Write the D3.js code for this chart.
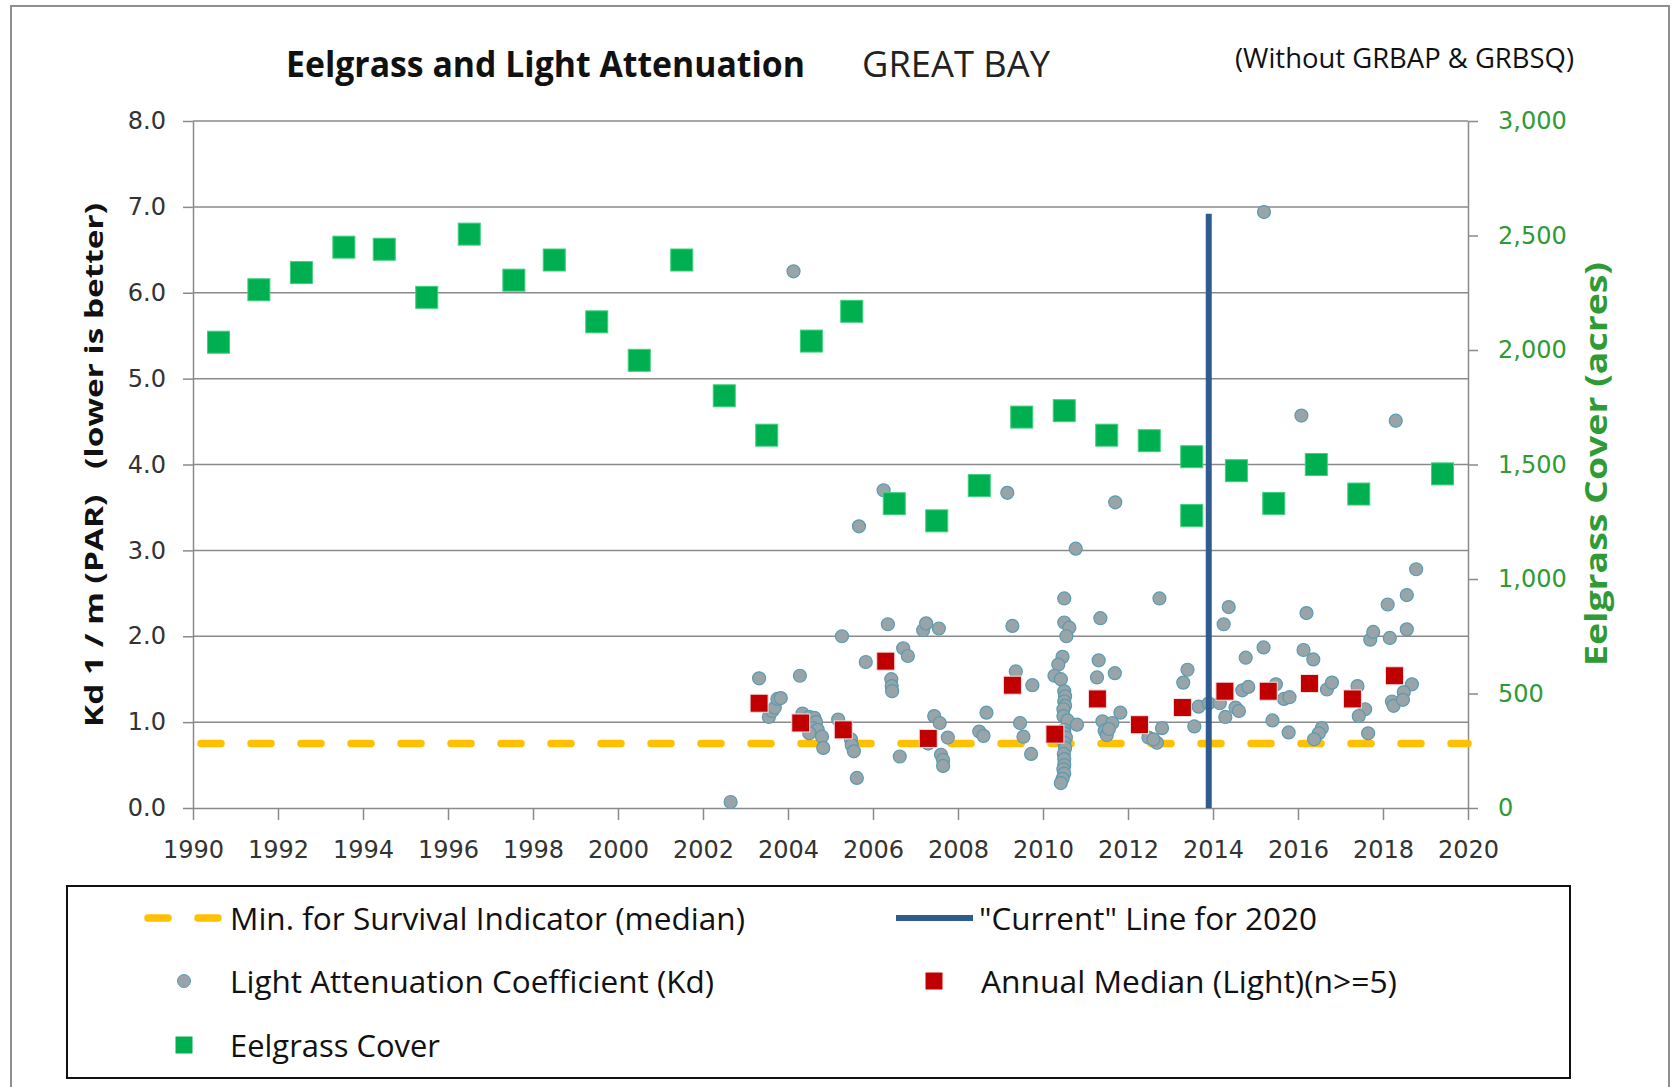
<!DOCTYPE html>
<html><head><meta charset="utf-8">
<script src="https://cdn.jsdelivr.net/npm/d3@7"></script>
<style>body{margin:0;background:#fff;} svg{display:block;}</style>
</head><body><svg id="chart" width="1677" height="1087"></svg>
<script>
// ---------------- DATA ----------------
const coverYears = [1990.6,1991.55,1992.55,1993.55,1994.5,1995.5,1996.5,1997.55,1998.5,1999.5,2000.5,2001.5,2002.5,2003.5,2004.55,2005.5,2006.5,2007.5,2008.5,2009.5,2010.5,2011.5,2012.5,2013.5,2013.5,2014.55,2015.43,2016.43,2017.43,2019.4];
const coverAcres = [2034,2263,2338,2449,2440,2230,2506,2305,2393,2123,1955,2393,1800,1628,2039,2169,1329,1254,1408,1707,1735,1628,1604,1534,1277,1473,1330,1500,1371,1459];

const medianYears = [2003.32,2004.3,2005.3,2006.3,2007.3,2009.28,2010.28,2011.28,2012.27,2013.28,2014.28,2015.3,2016.27,2017.28,2018.27];
const medianKd = [1.22,0.99,0.91,1.71,0.81,1.43,0.86,1.27,0.97,1.17,1.36,1.36,1.45,1.27,1.54];

const kdSamples = [
  [2002.65,0.07],
  [2003.32,1.51],[2003.55,1.06],[2003.63,1.13],[2003.69,1.17],[2003.75,1.27],[2003.83,1.28],
  [2004.13,6.25],[2004.28,1.54],[2004.34,1.10],[2004.5,1.06],[2004.62,1.05],[2004.66,1.00],[2004.58,0.93],[2004.7,0.91],[2004.5,0.87],[2004.8,0.83],[2004.83,0.70],
  [2005.27,2.00],[2005.18,1.03],[2005.48,0.80],[2005.5,0.73],[2005.55,0.66],[2005.62,0.35],[2005.67,3.28],[2005.83,1.70],
  [2006.25,3.70],[2006.35,2.14],[2006.43,1.50],[2006.44,1.42],[2006.45,1.36],[2006.71,1.86],[2006.82,1.77],[2006.63,0.60],
  [2007.18,2.07],[2007.25,2.15],[2007.55,2.09],[2007.44,1.07],[2007.57,0.99],[2007.76,0.82],[2007.6,0.62],[2007.65,0.56],[2007.65,0.49],[2007.3,0.75],
  [2008.67,1.11],[2008.5,0.89],[2008.6,0.84],
  [2009.16,3.67],[2009.28,2.12],[2009.36,1.59],[2009.75,1.43],[2009.46,0.99],[2009.54,0.83],[2009.72,0.63],
  [2010.77,3.02],[2010.5,2.44],[2010.5,2.16],[2010.62,2.10],[2010.55,2.00],[2010.46,1.76],[2010.36,1.67],[2010.27,1.54],[2010.42,1.50],[2010.5,1.36],[2010.52,1.30],[2010.5,1.24],[2010.52,1.19],[2010.48,1.15],[2010.48,1.07],[2010.58,1.02],[2010.8,0.97],[2010.5,0.91],[2010.5,0.87],[2010.54,0.82],[2010.5,0.76],[2010.52,0.70],[2010.49,0.63],[2010.5,0.57],[2010.5,0.50],[2010.48,0.45],[2010.5,0.40],[2010.46,0.34],[2010.42,0.29],
  [2011.7,3.56],[2011.35,2.21],[2011.31,1.72],[2011.27,1.52],[2011.69,1.57],[2011.4,1.01],[2011.45,0.90],[2011.5,0.85],[2011.82,1.11],[2011.63,0.99],[2011.55,0.92],
  [2012.74,2.44],[2012.48,0.82],[2012.68,0.76],[2012.8,0.93],[2012.6,0.80],
  [2013.4,1.61],[2013.3,1.46],[2013.66,1.18],[2013.56,0.95],[2013.9,1.22],
  [2014.37,2.34],[2014.25,2.14],[2014.77,1.75],[2014.69,1.37],[2014.83,1.41],[2014.16,1.22],[2014.53,1.17],[2014.61,1.13],[2014.29,1.06],
  [2015.2,6.94],[2015.19,1.87],[2015.4,1.02],[2015.78,0.88],[2015.48,1.44],[2015.67,1.27],[2015.8,1.29],
  [2016.08,4.57],[2016.2,2.27],[2016.13,1.84],[2016.36,1.73],[2016.68,1.38],[2016.8,1.46],[2016.56,0.93],[2016.49,0.87],[2016.38,0.80],
  [2017.4,1.42],[2017.58,1.15],[2017.43,1.07],[2017.65,0.87],[2017.7,1.96],[2017.77,2.05],
  [2018.3,4.51],[2018.11,2.37],[2018.16,1.98],[2018.56,2.48],[2018.56,2.08],[2018.78,2.78],[2018.68,1.44],[2018.49,1.35],[2018.21,1.24],[2018.25,1.19],[2018.47,1.26]
];

const survivalKd = 0.75;
const currentLineYear = 2013.9;
const currentLineTop = 6.92;

const kdTicks = [0,1,2,3,4,5,6,7,8];
const yearTicks = [1990,1992,1994,1996,1998,2000,2002,2004,2006,2008,2010,2012,2014,2016,2018,2020];
const acreTicks = [0,500,1000,1500,2000,2500,3000];

const titleText = "Eelgrass and Light Attenuation";
const subtitleText = "GREAT BAY";
const noteText = "(Without GRBAP & GRBSQ)";
const leftTitle = "Kd 1 / m (PAR)   (lower is better)";
const rightTitle = "Eelgrass Cover (acres)";
const legendLabels = ["Min. for Survival Indicator (median)", "\"Current\" Line for 2020", "Light Attenuation Coefficient (Kd)", "Annual Median (Light)(n>=5)", "Eelgrass Cover"];

// ---------------- STYLE ----------------
const C = {grid:"#8a8a8a", text:"#333", green:"#00b050", greenText:"#2f9a36", red:"#c00000", dotFill:"#98a4a8", dotStroke:"#5a9bb0", blue:"#2f5b8f", yellow:"#ffc000"};
const L=193, R=1468, T=121, B=808;

const svg = d3.select("#chart");
svg.append("rect").attr("x",11).attr("y",6).attr("width",1658).attr("height",1100)
  .attr("fill","#fff").attr("stroke","#8f8f8f").attr("stroke-width",2);

const x = d3.scaleLinear().domain([1990,2020]).range([L,R]);
const y = d3.scaleLinear().domain([0,8]).range([B,T]);
const y2 = d3.scaleLinear().domain([0,3000]).range([B,T]);

// gridlines
svg.append("g").selectAll("line").data(kdTicks.filter(d=>d>0)).join("line")
  .attr("x1",L).attr("x2",R).attr("y1",d=>y(d)).attr("y2",d=>y(d))
  .attr("stroke",C.grid).attr("stroke-width",1.5);

function styleAxis(g, color){
  g.selectAll("path").attr("stroke",C.grid).attr("stroke-width",1.5);
  g.selectAll("line").attr("stroke",C.grid).attr("stroke-width",1.5);
  g.selectAll("text").attr("fill",color).attr("font-family","'DejaVu Sans', Verdana, sans-serif").attr("font-size",24);
}
const gl = svg.append("g").attr("transform",`translate(${L},0)`)
  .call(d3.axisLeft(y).tickValues(kdTicks).tickFormat(d3.format(".1f")).tickSize(10).tickPadding(17).tickSizeOuter(0));
styleAxis(gl, C.text);
const gb = svg.append("g").attr("transform",`translate(0,${B})`)
  .call(d3.axisBottom(x).tickValues(yearTicks).tickFormat(d3.format("d")).tickSize(12).tickPadding(21).tickSizeOuter(0));
styleAxis(gb, C.text);
const gr = svg.append("g").attr("transform",`translate(${R},0)`)
  .call(d3.axisRight(y2).tickValues(acreTicks).tickFormat(d3.format(",")).tickSize(10).tickPadding(20).tickSizeOuter(0));
styleAxis(gr, C.greenText);

// survival line
svg.append("line").attr("x1",x(1990)).attr("x2",x(2020)).attr("y1",y(survivalKd)).attr("y2",y(survivalKd))
  .attr("stroke",C.yellow).attr("stroke-width",7.5).attr("stroke-linecap","round")
  .attr("stroke-dasharray","20 30").attr("stroke-dashoffset",-8);

// Kd samples
svg.append("g").selectAll("circle").data(kdSamples).join("circle")
  .attr("cx",d=>x(d[0])).attr("cy",d=>y(d[1])).attr("r",6.5)
  .attr("fill",C.dotFill).attr("stroke",C.dotStroke).attr("stroke-width",1.2);

// annual medians
const ms = 18;
svg.append("g").selectAll("rect").data(medianYears.map((yr,i)=>[yr,medianKd[i]])).join("rect")
  .attr("x",d=>x(d[0])-ms/2).attr("y",d=>y(d[1])-ms/2).attr("width",ms).attr("height",ms)
  .attr("fill",C.red).attr("stroke","#f4e0e0").attr("stroke-width",1);

// eelgrass cover
const gs = 22;
svg.append("g").selectAll("rect").data(coverYears.map((yr,i)=>[yr,coverAcres[i]])).join("rect")
  .attr("x",d=>x(d[0])-gs/2).attr("y",d=>y2(d[1])-gs/2).attr("width",gs).attr("height",gs)
  .attr("fill",C.green).attr("stroke","#3fcf7f").attr("stroke-width",1);

// current line
svg.append("line").attr("x1",x(currentLineYear)).attr("x2",x(currentLineYear))
  .attr("y1",y(currentLineTop)).attr("y2",y(0))
  .attr("stroke",C.blue).attr("stroke-width",6);

// titles
const sans = "'Open Sans', 'Noto Sans', sans-serif";
svg.append("text").attr("x",286).attr("y",77).attr("font-family",sans).attr("font-weight",700)
  .attr("font-size",36).attr("fill","#111").attr("textLength",519).attr("lengthAdjust","spacingAndGlyphs").text(titleText);
svg.append("text").attr("x",862).attr("y",77).attr("font-family",sans)
  .attr("font-size",36).attr("fill","#222").attr("textLength",188).attr("lengthAdjust","spacingAndGlyphs").text(subtitleText);
svg.append("text").attr("x",1235).attr("y",68).attr("font-family",sans)
  .attr("font-size",28).attr("fill","#111").attr("textLength",339).attr("lengthAdjust","spacingAndGlyphs").text(noteText);

svg.append("text").attr("transform","translate(103,465) rotate(-90)").attr("text-anchor","middle")
  .attr("font-family",sans).attr("font-weight",700).attr("font-size",25).attr("fill","#111")
  .attr("textLength",524).attr("lengthAdjust","spacingAndGlyphs").style("white-space","pre").text(leftTitle);
svg.append("text").attr("transform","translate(1607,464) rotate(-90)").attr("text-anchor","middle")
  .attr("font-family",sans).attr("font-weight",700).attr("font-size",30).attr("fill",C.greenText)
  .attr("textLength",404).attr("lengthAdjust","spacingAndGlyphs").text(rightTitle);

// legend
const lg = svg.append("g");
lg.append("rect").attr("x",67).attr("y",886).attr("width",1503).attr("height",192)
  .attr("fill","#fff").attr("stroke","#111").attr("stroke-width",2);
const rows = [918, 981, 1045];
lg.append("line").attr("x1",148).attr("x2",220).attr("y1",rows[0]).attr("y2",rows[0])
  .attr("stroke",C.yellow).attr("stroke-width",7.5).attr("stroke-linecap","round").attr("stroke-dasharray","20 30");
lg.append("line").attr("x1",896).attr("x2",973).attr("y1",rows[0]).attr("y2",rows[0])
  .attr("stroke",C.blue).attr("stroke-width",6);
lg.append("circle").attr("cx",184).attr("cy",rows[1]).attr("r",6.5).attr("fill",C.dotFill).attr("stroke",C.dotStroke);
lg.append("rect").attr("x",934-8.5).attr("y",rows[1]-8.5).attr("width",17).attr("height",17).attr("fill",C.red);
lg.append("rect").attr("x",184-8.5).attr("y",rows[2]-8.5).attr("width",17).attr("height",17).attr("fill",C.green);
const legendPos = [[230,rows[0],515],[979,rows[0],338],[230,rows[1],484],[981,rows[1],416],[230,rows[2],210]];
legendPos.forEach((p,i)=>{
  lg.append("text").attr("x",p[0]).attr("y",p[1]+12).attr("font-family",sans).attr("font-size",31)
    .attr("fill","#111").attr("textLength",p[2]).attr("lengthAdjust","spacingAndGlyphs").text(legendLabels[i]);
});
</script></body></html>
